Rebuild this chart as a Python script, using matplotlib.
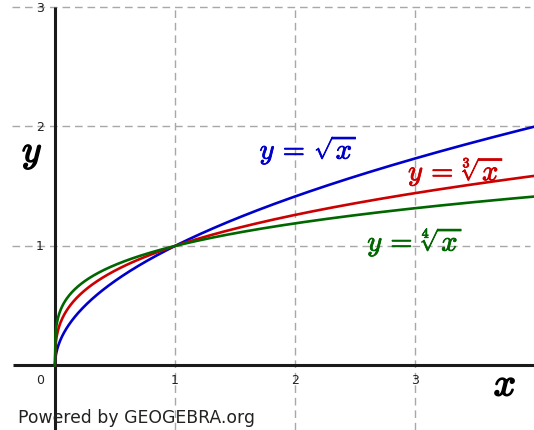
import numpy as np
import matplotlib
matplotlib.use("Agg")
import matplotlib.pyplot as plt
import matplotlib.patheffects as pe

plt.rcParams['mathtext.fontset'] = 'cm'

# root functions y = x^(1/n)
roots = [2, 3, 4]
colors = ['#0000cc', '#cc0000', '#006600']
labels = [r'$y\,=\,\sqrt{x}$', r'$y\,=\,\sqrt[3]{x}$', r'$y\,=\,\sqrt[4]{x}$']
label_pos = [(2.11, 1.80), (3.34, 1.62), (3.00, 1.03)]

xticks = [1, 2, 3]
yticks = [1, 2, 3]

fig = plt.figure(figsize=(5.34, 4.31), dpi=100)
ax = fig.add_axes([0, 0, 1, 1])
ax.set_xlim(-0.458, 3.992)
ax.set_ylim(-0.54, 3.067)
ax.axis('off')

# dashed grid
grid_kw = dict(color='#a8a8a8', lw=1.0, dashes=(5.5, 3.5), zorder=1)
for yv in yticks:
    ax.plot([-0.36, 3.96], [yv, yv], **grid_kw)
for xv in xticks:
    ax.plot([xv, xv], [-0.54, 3.0], **grid_kw)

# axes
ax.plot([-0.35, 3.992], [0, 0], color='#1a1a1a', lw=2.2, zorder=2, solid_capstyle='butt')
ax.plot([0, 0], [-0.54, 3.0], color='#1a1a1a', lw=2.2, zorder=2, solid_capstyle='butt')

# tick labels
for xv in xticks:
    ax.text(xv, -0.115, str(xv), ha='center', va='center', fontsize=9, color='#222222')
ax.text(-0.125, -0.115, '0', ha='center', va='center', fontsize=9, color='#222222')
for yv in yticks:
    ax.text(-0.125, yv, str(yv), ha='center', va='center', fontsize=9, color='#222222')

bold = [pe.withStroke(linewidth=1.1, foreground='black')]
ax.text(-0.19, 1.78, r'$y$', ha='center', va='center', fontsize=27, path_effects=bold)
ax.text(3.75, -0.16, r'$x$', ha='center', va='center', fontsize=28, path_effects=bold)

# curves
x = np.linspace(0, 3.992, 800)
for n, c, lab, (tx, ty) in zip(roots, colors, labels, label_pos):
    ax.plot(x, x ** (1.0 / n), color=c, lw=1.9, zorder=3)
    ax.text(tx, ty, lab, color=c, ha='center', va='center', fontsize=20.5, zorder=4,
            path_effects=[pe.withStroke(linewidth=0.6, foreground=c)])

fig.text(18 / 534, 1 - 418 / 431, 'Powered by GEOGEBRA.org', ha='left', va='center',
         fontsize=12.4, color='#222222')

fig.savefig('out.png', dpi=100)
